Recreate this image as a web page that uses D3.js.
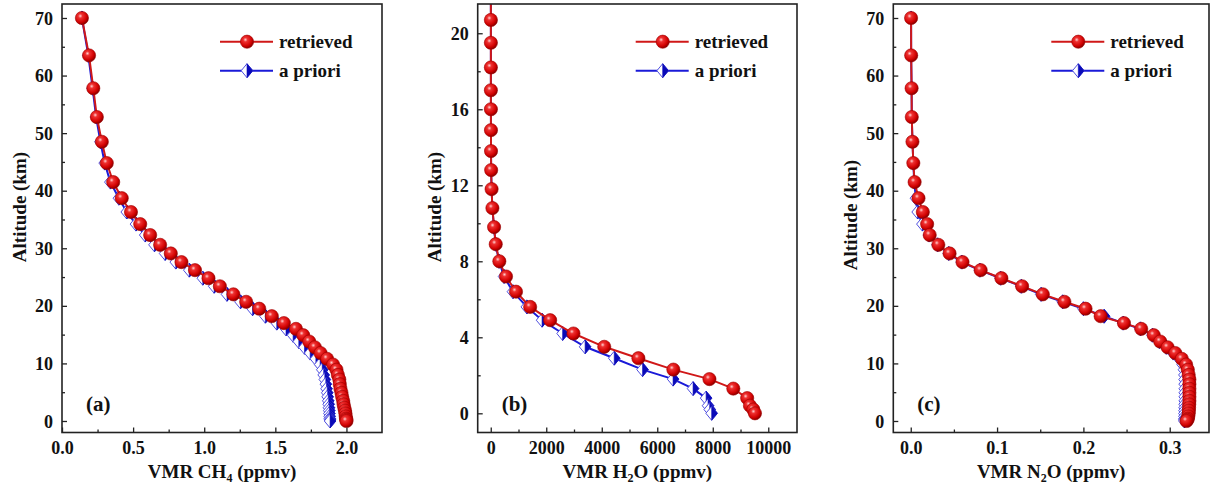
<!DOCTYPE html>
<html>
<head>
<meta charset="utf-8">
<script src="https://cdn.jsdelivr.net/npm/d3@7/dist/d3.min.js"></script>
<style>
  html, body { margin: 0; padding: 0; background: #fff; }
  svg { display: block; }
  text { font-family: "Liberation Serif", "Times New Roman", serif; font-weight: bold; fill: #111; }
</style>
</head>
<body>
<svg id="chart" width="1213" height="486"></svg>
<script>
// ---------------- DATA ----------------
const altitudes = [70, 63.5, 57.8, 52.8, 48.5, 44.8, 41.5, 38.7, 36.3, 34.2, 32.3, 30.6, 29.1, 27.6, 26.2,
  24.8, 23.4, 22.0, 20.7, 19.5, 18.2, 17.0, 16.0, 14.9, 13.8, 12.8, 11.8, 10.8, 9.8, 8.9, 8.0, 7.2, 6.4,
  5.6, 4.9, 4.2, 3.5, 2.9, 2.3, 1.8, 1.3, 0.8, 0.4, 0.2, 0.0];

const ch4Retrieved = [0.14, 0.19, 0.22, 0.245, 0.28, 0.315, 0.36, 0.42, 0.485, 0.55, 0.62, 0.69, 0.765, 0.84,
  0.935, 1.03, 1.11, 1.205, 1.295, 1.387, 1.475, 1.56, 1.645, 1.696, 1.738, 1.778, 1.818, 1.864, 1.906, 1.93,
  1.94, 1.95, 1.953, 1.958, 1.965, 1.97, 1.977, 1.98, 1.985, 1.99, 1.993, 1.995, 1.997, 2.0, 2.0];
const ch4Apriori = [0.14, 0.185, 0.215, 0.24, 0.27, 0.30, 0.34, 0.40, 0.455, 0.52, 0.585, 0.65, 0.725, 0.80,
  0.895, 0.99, 1.07, 1.16, 1.255, 1.34, 1.43, 1.51, 1.575, 1.625, 1.665, 1.705, 1.745, 1.785, 1.815, 1.83,
  1.84, 1.848, 1.855, 1.86, 1.865, 1.868, 1.872, 1.875, 1.877, 1.879, 1.88, 1.882, 1.883, 1.884, 1.885];

const h2oRetrieved = [4, 4, 4, 4, 4, 4, 4, 4, 4, 4, 4, 4, 4, 4, 4, 4, 4, 4, 5, 5, 5, 5, 6, 8, 10, 15, 30, 60,
  120, 180, 310, 550, 910, 1420, 2140, 2980, 4090, 5320, 6580, 7880, 8740, 9240, 9340, 9460, 9520];
const h2oApriori = [4, 4, 4, 4, 4, 4, 4, 4, 4, 4, 4, 4, 4, 4, 4, 4, 4, 4, 5, 5, 5, 5, 6, 8, 10, 15, 30, 60,
  115, 175, 300, 480, 800, 1300, 1850, 2590, 3400, 4450, 5470, 6570, 7290, 7760, 7830, 7890, 7960];

const n2oRetrieved = [0.0004, 0.0005, 0.001, 0.0012, 0.002, 0.003, 0.0045, 0.009, 0.014, 0.019, 0.022, 0.032,
  0.045, 0.060, 0.081, 0.105, 0.129, 0.153, 0.178, 0.2025, 0.220, 0.247, 0.267, 0.2815, 0.289, 0.2976, 0.3065,
  0.314, 0.319, 0.321, 0.322, 0.3228, 0.3228, 0.3228, 0.3228, 0.3228, 0.3228, 0.3226, 0.3224, 0.3222, 0.322,
  0.3215, 0.321, 0.3203, 0.3195];
const n2oApriori = [0.0004, 0.0005, 0.001, 0.0012, 0.002, 0.003, 0.004, 0.006, 0.008, 0.0135, 0.021, 0.031,
  0.044, 0.059, 0.080, 0.104, 0.128, 0.151, 0.176, 0.200, 0.224, 0.246, 0.266, 0.280, 0.288, 0.296, 0.304,
  0.311, 0.315, 0.3165, 0.317, 0.3172, 0.3173, 0.3174, 0.3174, 0.3174, 0.3174, 0.3173, 0.3172, 0.3171, 0.317,
  0.317, 0.317, 0.317, 0.317];

const legendLabels = ["retrieved", "a priori"];
const panelLabels = ["(a)", "(b)", "(c)"];

const chXTicks = [0, 0.5, 1.0, 1.5, 2.0];
const chXMinor = [0.25, 0.75, 1.25, 1.75];
const altTicks70 = [0, 10, 20, 30, 40, 50, 60, 70];
const altMinor70 = [5, 15, 25, 35, 45, 55, 65];
const h2oXTicks = [0, 2000, 4000, 6000, 8000, 10000];
const h2oXMinor = [1000, 3000, 5000, 7000, 9000];
const altTicks20 = [0, 4, 8, 12, 16, 20];
const altMinor20 = [2, 6, 10, 14, 18];
const n2oXTicks = [0, 0.1, 0.2, 0.3];
const n2oXMinor = [0.05, 0.15, 0.25];

// ---------------- DRAW ----------------
const svg = d3.select("#chart");
const defs = svg.append("defs");
const grad = defs.append("radialGradient").attr("id", "sphere")
  .attr("cx", "38%").attr("cy", "35%").attr("r", "65%");
grad.append("stop").attr("offset", "0%").attr("stop-color", "#ffd0d0");
grad.append("stop").attr("offset", "25%").attr("stop-color", "#ee3030");
grad.append("stop").attr("offset", "75%").attr("stop-color", "#d00000");
grad.append("stop").attr("offset", "100%").attr("stop-color", "#8a0000");

const RED = "#d01818", BLUE = "#1a1ad8";

function drawSphere(g, x, y) {
  g.append("circle").attr("cx", x).attr("cy", y).attr("r", 6.6)
    .attr("fill", "url(#sphere)").attr("stroke", "#a00000").attr("stroke-width", 0.6);
}
function drawDiamond(g, x, y) {
  const w = 5.8, h = 7;
  g.append("path").attr("d", `M${x},${y - h}L${x + w},${y}L${x},${y + h}L${x - w},${y}Z`)
    .attr("fill", "#fff").attr("stroke", "#5050e0").attr("stroke-width", 1);
  g.append("path").attr("d", `M${x},${y - h}L${x + w},${y}L${x},${y + h}Z`)
    .attr("fill", "#0a0ab8").attr("stroke", "#0a0ab8").attr("stroke-width", 0.6);
}

const panels = [
  { left: 62, right: 382, xDom: [0, 2.25], yDom: [-2.0, 72.43], xTicks: chXTicks, xMinor: chXMinor,
    yTicks: altTicks70, yMinor: altMinor70, xFmt: d3.format(".1f"), ret: ch4Retrieved, apr: ch4Apriori,
    gas: ["CH", "4", ""], label: panelLabels[0], titleY: 207 },
  { left: 477.7, right: 797, xDom: [-470, 11035], yDom: [-1.01, 21.54], xTicks: h2oXTicks, xMinor: h2oXMinor,
    yTicks: altTicks20, yMinor: altMinor20, xFmt: d3.format("d"), ret: h2oRetrieved, apr: h2oApriori,
    gas: ["H", "2", "O"], label: panelLabels[1], titleY: 207 },
  { left: 893.3, right: 1209, xDom: [-0.0202, 0.3455], yDom: [-2.0, 72.43], xTicks: n2oXTicks, xMinor: n2oXMinor,
    yTicks: altTicks70, yMinor: altMinor70, xFmt: d3.format(".1f"), ret: n2oRetrieved, apr: n2oApriori,
    gas: ["N", "2", "O"], label: panelLabels[2], titleY: 215 }
];
const TOP = 4, BOTTOM = 432.5;

panels.forEach((p, i) => {
  const x = d3.scaleLinear().domain(p.xDom).range([p.left, p.right]);
  const y = d3.scaleLinear().domain(p.yDom).range([BOTTOM, TOP]);
  const g = svg.append("g");

  const clipId = "clip" + i;
  defs.append("clipPath").attr("id", clipId).append("rect")
    .attr("x", p.left).attr("y", TOP).attr("width", p.right - p.left).attr("height", BOTTOM - TOP);

  const plot = g.append("g").attr("clip-path", `url(#${clipId})`);
  const line = d3.line().x(d => x(d[0])).y(d => y(d[1]));
  const aprPts = p.apr.map((v, k) => [v, altitudes[k]]);
  const retPts = p.ret.map((v, k) => [v, altitudes[k]]);

  plot.append("path").datum(aprPts).attr("d", line).attr("fill", "none")
    .attr("stroke", BLUE).attr("stroke-width", 2);
  aprPts.forEach(d => { if (d[1] <= p.yDom[1]) drawDiamond(plot, x(d[0]), y(d[1])); });
  plot.append("path").datum(retPts).attr("d", line).attr("fill", "none")
    .attr("stroke", RED).attr("stroke-width", 2);
  retPts.forEach(d => { if (d[1] <= p.yDom[1]) drawSphere(plot, x(d[0]), y(d[1])); });

  // axes (inward ticks)
  const xAx = g.append("g").attr("transform", `translate(0,${BOTTOM})`)
    .call(d3.axisBottom(x).tickValues(p.xTicks).tickSize(-5).tickPadding(9).tickFormat(p.xFmt));
  const xAxM = g.append("g").attr("transform", `translate(0,${BOTTOM})`)
    .call(d3.axisBottom(x).tickValues(p.xMinor).tickSize(-3).tickFormat(""));
  const yAx = g.append("g").attr("transform", `translate(${p.left},0)`)
    .call(d3.axisLeft(y).tickValues(p.yTicks).tickSize(-5).tickPadding(9).tickFormat(d3.format("d")));
  const yAxM = g.append("g").attr("transform", `translate(${p.left},0)`)
    .call(d3.axisLeft(y).tickValues(p.yMinor).tickSize(-3).tickFormat(""));
  [xAx, xAxM, yAx, yAxM].forEach(a => {
    a.select(".domain").remove();
    a.selectAll(".tick line").attr("stroke", "#222").attr("stroke-width", 1.3);
    a.selectAll("text").attr("font-size", 18).attr("font-family", "Liberation Serif")
      .attr("font-weight", "bold").attr("fill", "#111");
  });
  xAx.selectAll("text").attr("dy", "0.71em");
  yAx.selectAll("text").attr("dy", "0.34em");

  // frame
  g.append("rect").attr("x", p.left).attr("y", TOP).attr("width", p.right - p.left)
    .attr("height", BOTTOM - TOP).attr("fill", "none").attr("stroke", "#222").attr("stroke-width", 1.6);

  // axis titles
  const xt = g.append("text").attr("x", (p.left + p.right) / 2).attr("y", 478)
    .attr("text-anchor", "middle").attr("font-size", 19);
  xt.append("tspan").text("VMR " + p.gas[0]);
  xt.append("tspan").text(p.gas[1]).attr("font-size", 12).attr("dy", 4);
  xt.append("tspan").text(p.gas[2] + " (ppmv)").attr("dy", -4);

  g.append("text").attr("transform", `translate(${p.left - 43},${p.titleY}) rotate(-90)`)
    .attr("text-anchor", "middle").attr("dy", "0.35em").attr("font-size", 19).text("Altitude (km)");

  // panel label
  g.append("text").attr("x", p.left + 24).attr("y", 411).attr("font-size", 21).text(p.label);

  // legend
  const lx = p.left + 158;
  const rows = [{ y: 41.7, color: RED, kind: "ret" }, { y: 70.7, color: BLUE, kind: "apr" }];
  rows.forEach((r, k) => {
    g.append("line").attr("x1", lx).attr("x2", lx + 53).attr("y1", r.y).attr("y2", r.y)
      .attr("stroke", r.color).attr("stroke-width", 2);
    if (r.kind === "ret") drawSphere(g, lx + 27, r.y); else drawDiamond(g, lx + 27, r.y);
    g.append("text").attr("x", lx + 59).attr("y", r.y).attr("dy", "0.32em")
      .attr("font-size", 19).text(legendLabels[k]);
  });
});
</script>
</body>
</html>
